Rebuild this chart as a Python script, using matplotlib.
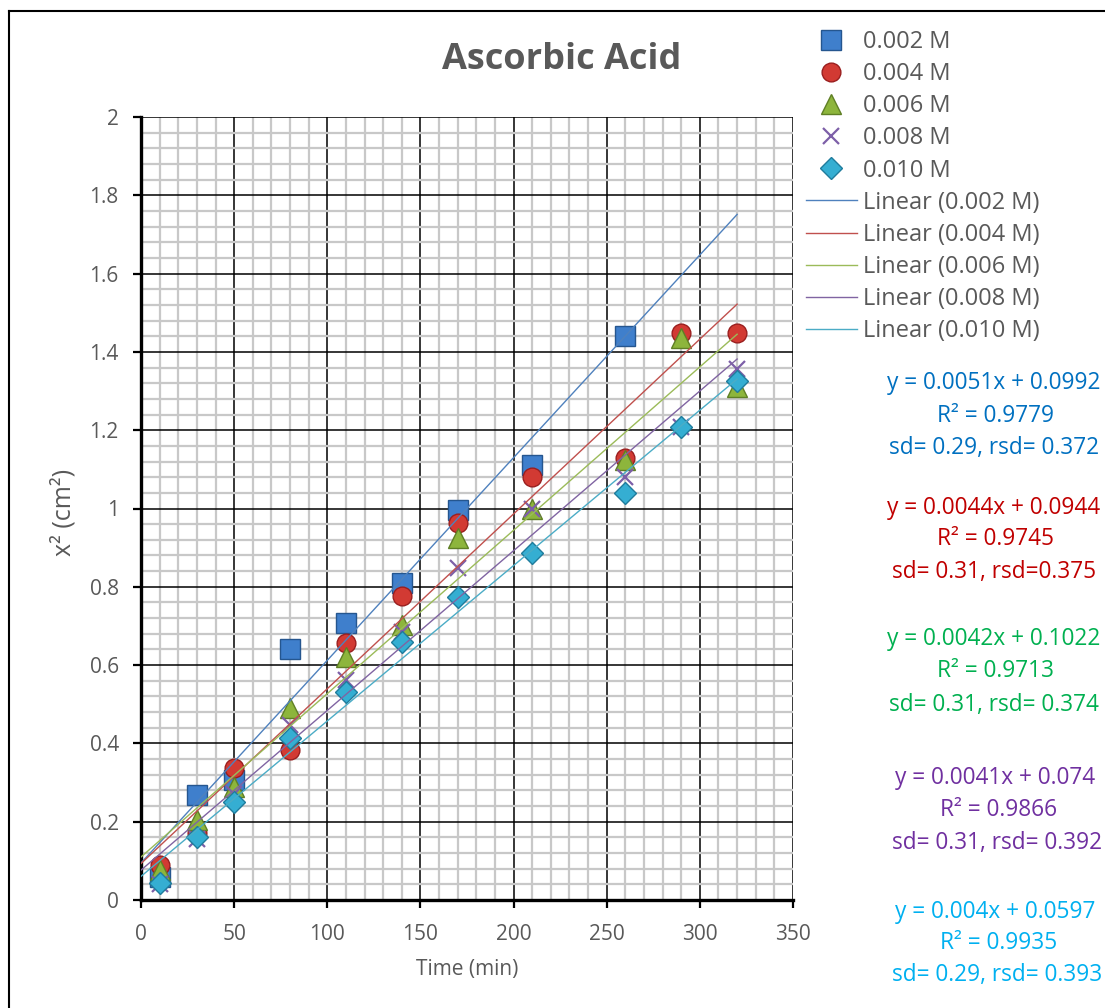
import numpy as np
import matplotlib
matplotlib.use("Agg")
import matplotlib.pyplot as plt
from matplotlib.lines import Line2D

plt.rcParams['font.family'] = ['Open Sans', 'DejaVu Sans']

# data
time_min = [10, 30, 50, 80, 110, 140, 170, 210, 260, 290, 320]
labels = ["0.002 M", "0.004 M", "0.006 M", "0.008 M", "0.010 M"]

x2_002 = [0.059, 0.268, 0.306, 0.641, 0.707, 0.810, 0.996, 1.111, 1.440]
x2_004 = [0.089, 0.171, 0.337, 0.383, 0.656, 0.777, 0.963, 1.080, 1.129, 1.448, 1.448]
x2_006 = [0.077, 0.204, 0.289, 0.490, 0.621, 0.702, 0.925, 1.000, 1.124, 1.435, 1.310]
x2_008 = [0.040, 0.155, 0.270, 0.447, 0.562, 0.685, 0.848, 1.000, 1.080, 1.208, 1.357]
x2_010 = [0.043, 0.161, 0.250, 0.414, 0.532, 0.659, 0.774, 0.886, 1.040, 1.208, 1.326]

eq_text = [
    ["y = 0.0051x + 0.0992", "R² = 0.9779", "sd= 0.29, rsd= 0.372"],
    ["y = 0.0044x + 0.0944", "R² = 0.9745", "sd= 0.31, rsd=0.375"],
    ["y = 0.0042x + 0.1022", "R² = 0.9713", "sd= 0.31, rsd= 0.374"],
    ["y = 0.0041x + 0.074", "R² = 0.9866", "sd= 0.31, rsd= 0.392"],
    ["y = 0.004x + 0.0597", "R² = 0.9935", "sd= 0.29, rsd= 0.393"],
]

series = [x2_002, x2_004, x2_006, x2_008, x2_010]
markers = ['s', 'o', '^', 'x', 'D']
face = ['#3f7fcc', '#d23a33', '#8db53c', '#7d5fa8', '#35aed2']
edge = ['#25568f', '#9a1f1f', '#5f7f25', '#7d5fa8', '#1f7c9c']
msize = [14, 13.5, 14, 12, 11]
trend_col = ['#4f81bd', '#c0504d', '#9bbb59', '#8064a2', '#4bacc6']
text_col = ['#0070c0', '#c00000', '#00b050', '#7030a0', '#00b0f0']

W, H = 1105, 1008
fig = plt.figure(figsize=(W / 100, H / 100), dpi=100)
ax = fig.add_axes([141 / W, 1 - 900 / H, (793 - 141) / W, (900 - 117) / H])

handles_pts, handles_lines = [], []
for i, ys in enumerate(series):
    xs = time_min[:len(ys)]
    if markers[i] == 'x':
        h, = ax.plot(xs, ys, linestyle='none', marker='x', ms=msize[i],
                     mew=1.6, color=face[i], zorder=3 + i * 0.1, clip_on=False)
    else:
        h, = ax.plot(xs, ys, linestyle='none', marker=markers[i], ms=msize[i],
                     mfc=face[i], mec=edge[i], mew=1.0, zorder=3 + i * 0.1,
                     clip_on=False)
    handles_pts.append(h)
    # linear trendline, drawn from 0 to the last time
    k, b = np.polyfit(xs, ys, 1)
    xx = np.array([0, 320])
    l, = ax.plot(xx, k * xx + b, color=trend_col[i], lw=1.0, zorder=5)
    handles_lines.append(l)

ax.set_xlim(0, 350)
ax.set_ylim(0, 2)
ax.set_xticks(np.arange(0, 351, 50))
ax.set_yticks(np.arange(0, 2.01, 0.2))
ax.set_yticklabels(['0', '0.2', '0.4', '0.6', '0.8', '1', '1.2', '1.4', '1.6', '1.8', '2'])
ax.set_xticks(np.arange(0, 351, 10), minor=True)
ax.set_yticks(np.arange(0, 2.001, 0.04), minor=True)
ax.grid(which='minor', color='#c8c8c8', lw=1.6, zorder=0)
ax.grid(which='major', color='black', lw=1.1, zorder=1)
ax.set_axisbelow(True)
ax.tick_params(which='minor', length=0)
ax.tick_params(which='major', direction='out', length=6, width=1.6,
               colors='black', labelcolor='#595959', pad=10, labelsize=15)
ax.tick_params(axis='x', pad=11)
for s in ['top', 'right']:
    ax.spines[s].set_visible(False)
for s in ['left', 'bottom']:
    ax.spines[s].set_linewidth(2.4)

ax.set_xlabel('Time (min)', fontsize=15, color='#595959', labelpad=10)
fig.text(64 / W, 1 - 512 / H, 'x² (cm²)', rotation=90, fontsize=18,
         color='#595959', ha='center', va='center')

fig.text(562 / W, 1 - 60 / H, 'Ascorbic Acid', fontsize=26, fontweight='bold',
         color='#595959', ha='center', va='center')

leg_labels = labels + ['Linear (%s)' % s for s in labels]
fig.legend(handles_pts + handles_lines, leg_labels, loc='upper left',
           bbox_to_anchor=(806 / W, 1 - 30 / H), frameon=False, fontsize=17,
           handlelength=2.15, handletextpad=0.25, labelspacing=0.345,
           labelcolor='#595959', borderaxespad=0, borderpad=0)

# equation boxes
ys_txt = [[383, 416, 448], [508, 539, 572], [639, 671, 705],
          [778, 810, 843], [912, 943, 975]]
xs_txt = [[887, 937, 889], [887, 937, 892], [887, 937, 889],
          [895, 940, 892], [895, 940, 892]]
for g in range(5):
    for j in range(3):
        fig.text(xs_txt[g][j] / W, 1 - ys_txt[g][j] / H, eq_text[g][j],
                 fontsize=16.3, color=text_col[g], ha='left', va='center')

# chart area border
fig.add_artist(Line2D([9 / W, 9 / W], [0, 1 - 11 / H], color='black', lw=1.5))
fig.add_artist(Line2D([9 / W, 1], [1 - 11 / H, 1 - 11 / H], color='black', lw=1.5))

fig.savefig('out.png', dpi=100)
